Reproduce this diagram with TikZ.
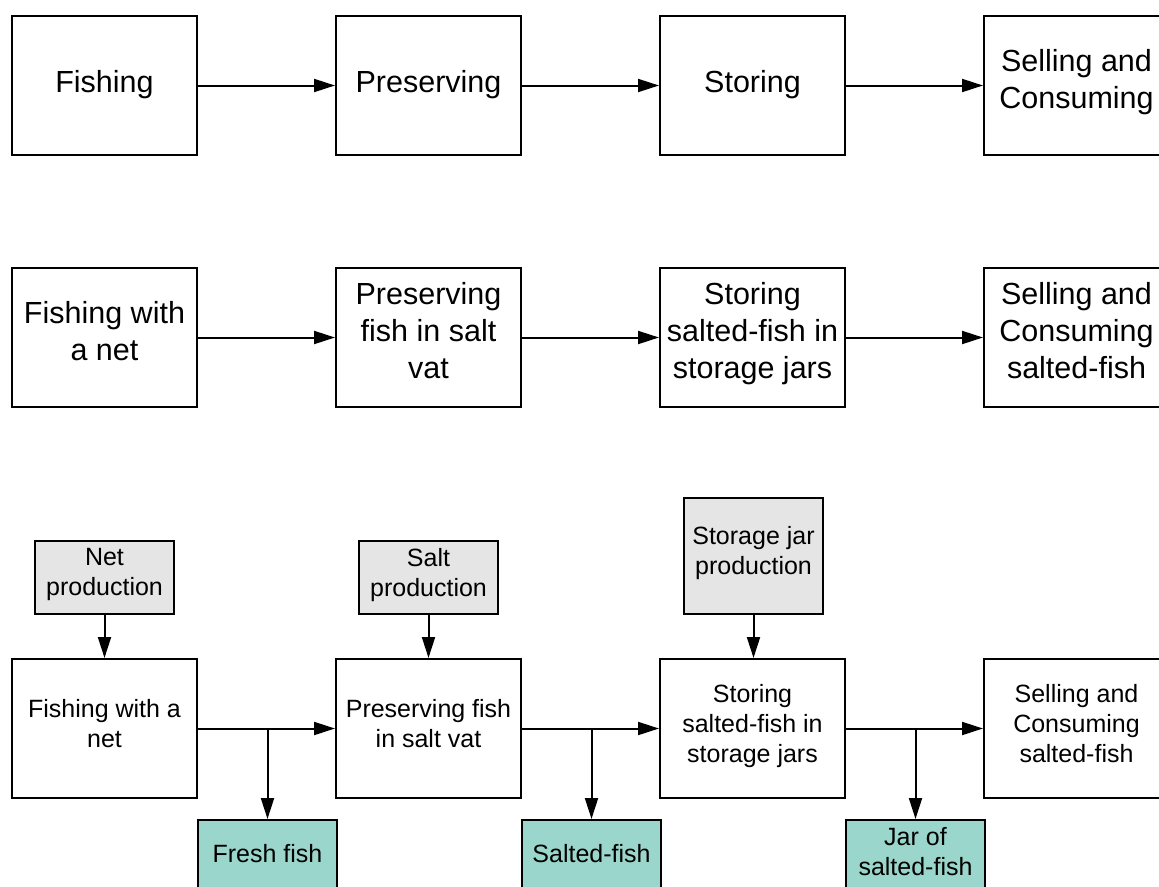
\documentclass[tikz,border=0pt]{standalone}
\usepackage{fontspec}
\setmainfont{Liberation Sans}
\usetikzlibrary{arrows.meta}
\definecolor{inputgray}{RGB}{229,229,229}
\definecolor{outputgreen}{RGB}{154,214,203}
\begin{document}
\begin{tikzpicture}[x=1pt,y=-1pt,
  box/.style={draw=black,line width=2pt,fill=white,anchor=north west,align=center,
    minimum width=185pt,minimum height=139pt,inner sep=0pt},
  % fixed line boxes so every label sits at the same height in its box
  bigtext/.style={font=\fontsize{30.5}{37}\selectfont,
    execute at begin node={\rule{0pt}{27pt}},
    execute at end node={\rule[-14pt]{0pt}{14pt}}},
  smalltext/.style={font=\fontsize{25}{30}\selectfont,
    execute at begin node={\rule{0pt}{22pt}},
    execute at end node={\rule[-11pt]{0pt}{11pt}}},
  inbox/.style={draw=black,line width=2pt,fill=inputgray,anchor=north west,align=center,
    minimum width=139pt,minimum height=73pt,inner sep=0pt,smalltext},
  outbox/.style={draw=black,line width=2pt,fill=outputgreen,anchor=north west,align=center,
    minimum width=139pt,minimum height=73pt,inner sep=0pt,smalltext},
  arr/.style={line width=2pt,-{Triangle[length=21pt,width=13pt]}}]
\useasboundingbox (0,0) rectangle (1159,886);
\clip (0,0) rectangle (1159,886);

% Row 1: general stages
\node[box,bigtext] (a1) at (11,15) {Fishing};
\node[box,bigtext] (a2) at (335,15) {Preserving};
\node[box,bigtext] (a3) at (659,15) {Storing};
\node[box,bigtext] (a4) at (983,15) {Selling and\\Consuming};
\draw[arr] (a1) -- (a2);
\draw[arr] (a2) -- (a3);
\draw[arr] (a3) -- (a4);

% Row 2: specific stages
\node[box,bigtext] (b1) at (11,267) {Fishing with\\a net};
\node[box,bigtext] (b2) at (335,267) {Preserving\\fish in salt\\vat};
\node[box,bigtext] (b3) at (659,267) {Storing\\salted-fish in\\storage jars};
\node[box,bigtext] (b4) at (983,267) {Selling and\\Consuming\\salted-fish};
\draw[arr] (b1) -- (b2);
\draw[arr] (b2) -- (b3);
\draw[arr] (b3) -- (b4);

% Row 3: stages with inputs and products
\node[box,smalltext] (c1) at (11,658) {Fishing with a\\net};
\node[box,smalltext] (c2) at (335,658) {Preserving fish\\in salt vat};
\node[box,smalltext] (c3) at (659,658) {Storing\\salted-fish in\\storage jars};
\node[box,smalltext] (c4) at (983,658) {Selling and\\Consuming\\salted-fish};

\node[inbox] (i1) at (34,540) {Net\\production};
\node[inbox] (i2) at (358,540) {Salt\\production};
\node[inbox,minimum height=116pt] (i3) at (683,497) {Storage jar\\production};

\node[outbox] (o1) at (197,819) {Fresh fish};
\node[outbox] (o2) at (521,819) {Salted-fish};
\node[outbox] (o3) at (845,819) {Jar of\\salted-fish};

\draw[arr] (i1.south) -- (i1.south |- c1.north);
\draw[arr] (i2.south) -- (i2.south |- c2.north);
\draw[arr] (i3.south) -- (i3.south |- c3.north);

\draw[arr] (c1) -- (c2);
\draw[arr] (c2) -- (c3);
\draw[arr] (c3) -- (c4);

\draw[arr] (c1.east -| o1.north) -- (o1.north);
\draw[arr] (c2.east -| o2.north) -- (o2.north);
\draw[arr] (c3.east -| o3.north) -- (o3.north);
\end{tikzpicture}
\end{document}
